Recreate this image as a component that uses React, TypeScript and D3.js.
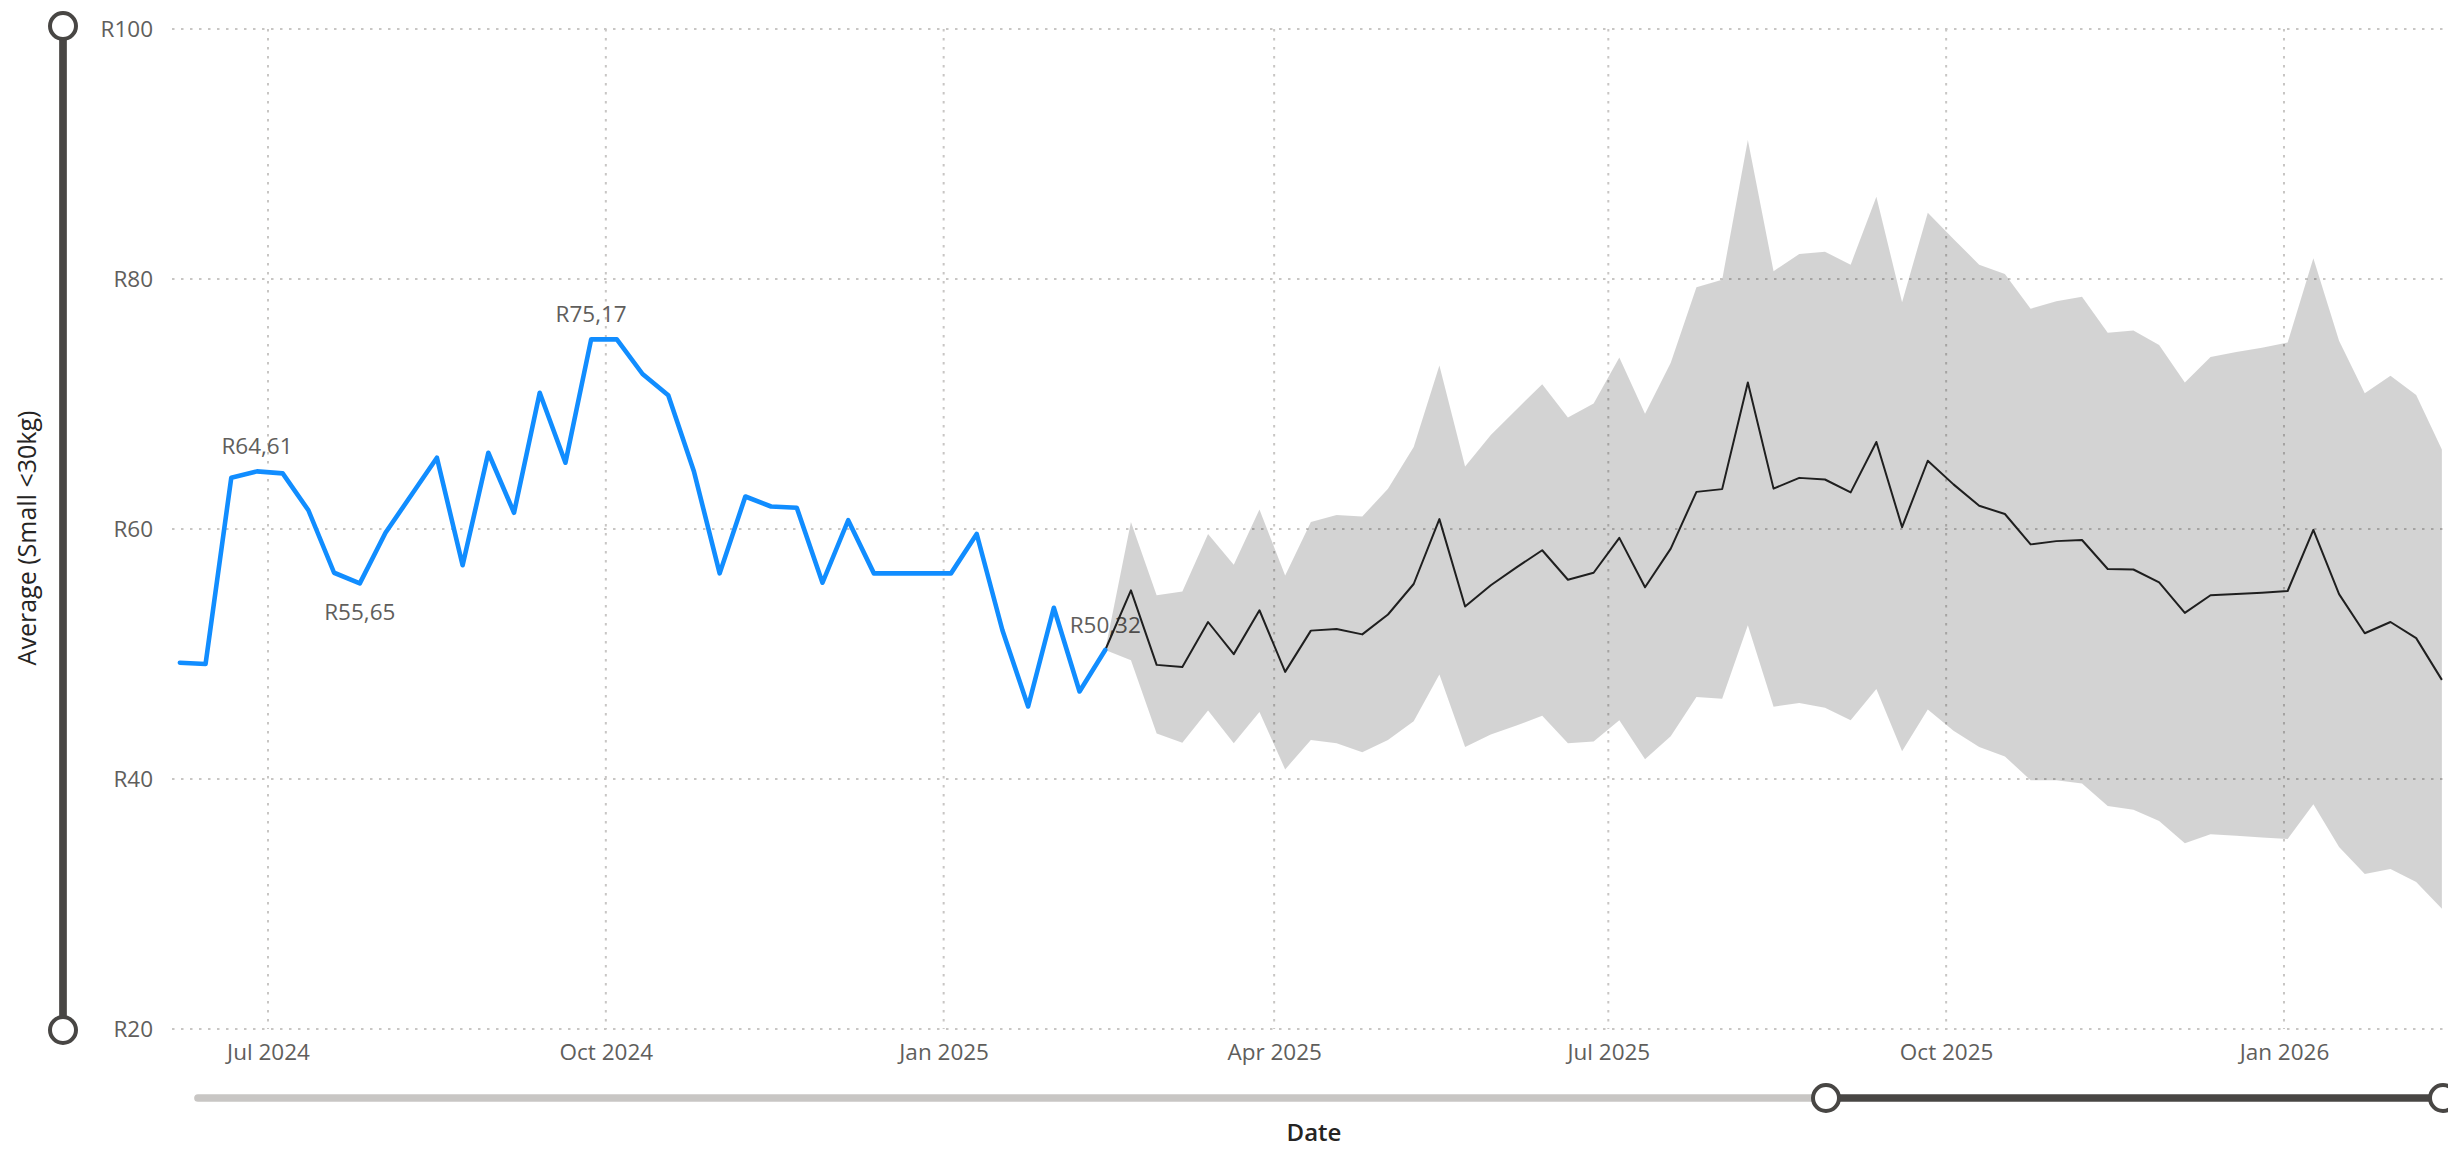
import { useEffect, useRef } from 'react'
import * as d3 from 'd3'

const W = 2448
const H = 1150
const FONT = '"Segoe UI", "Open Sans", "Noto Sans", sans-serif'

// y axis ticks (rand)
const yTicks = [20, 40, 60, 80, 100]
// quarterly x ticks
const xTickDates = ['2024-07-01', '2024-10-01', '2025-01-01', '2025-04-01', '2025-07-01', '2025-10-01', '2026-01-01']

// weekly actuals, starting 7 Jun 2024
const actualStart = '2024-06-07'
const actual = [
  49.3, 49.2, 64.1, 64.61, 64.45, 61.5, 56.5, 55.65, 59.7, 62.7,
  65.7, 57.1, 66.1, 61.3, 70.9, 65.3, 75.17, 75.17, 72.4, 70.7,
  64.6, 56.45, 62.6, 61.8, 61.7, 55.7, 60.7, 56.45, 56.45, 56.45,
  56.45, 59.6, 51.9, 45.8, 53.7, 47.0, 50.32,
]

// weekly forecast, starting 21 Feb 2025
const forecastStart = '2025-02-21'
const forecast = [
  55.09, 49.13, 48.96, 52.56, 49.99, 53.5, 48.57, 51.87, 52.0, 51.57,
  53.16, 55.6, 60.79, 53.8, 55.5, 56.93, 58.3, 55.94, 56.5, 59.29,
  55.34, 58.43, 62.97, 63.19, 71.72, 63.23, 64.09, 63.96, 62.93, 66.96,
  60.15, 65.46, 63.57, 61.86, 61.2, 58.77, 59.03, 59.12, 56.8, 56.76,
  55.73, 53.29, 54.7, 54.8, 54.9, 55.04, 59.93, 54.79, 51.66, 52.56,
  51.27, 47.93,
]
const upper = [
  60.57, 54.7, 55.0, 59.6, 57.14, 61.56, 56.29, 60.57, 61.13, 61.0,
  63.23, 66.57, 73.09, 65.0, 67.52, 69.57, 71.59, 68.93, 70.05, 73.73,
  69.23, 73.3, 79.35, 79.95, 91.13, 80.63, 82.0, 82.18, 81.15, 86.59,
  78.15, 85.31, 83.2, 81.15, 80.4, 77.63, 78.23, 78.58, 75.7, 75.88,
  74.72, 71.72, 73.77, 74.16, 74.5, 74.93, 81.66, 75.06, 70.86, 72.27,
  70.73, 66.36,
]
const lower = [
  49.51, 43.64, 42.91, 45.49, 42.87, 45.36, 40.77, 43.13, 42.87, 42.14,
  43.13, 44.63, 48.36, 42.57, 43.56, 44.28, 45.06, 42.87, 43.0, 44.71,
  41.58, 43.43, 46.56, 46.43, 52.3, 45.79, 46.09, 45.7, 44.71, 47.2,
  42.23, 45.57, 43.86, 42.57, 41.8, 39.91, 39.91, 39.65, 37.85, 37.55,
  36.65, 34.86, 35.58, 35.46, 35.33, 35.2, 37.98, 34.56, 32.41, 32.8,
  31.77, 29.63,
]

// points of the actual series that carry a data label
const labelled = [3, 7, 16, 36]
const labelledBelow = [7]

export default function App() {
  const svgRef = useRef<SVGSVGElement>(null)

  useEffect(() => {
    if (!svgRef.current) return
    const svg = d3.select(svgRef.current)
    svg.selectAll('*').remove()

    const left = 172
    const right = W
    const top = 29
    const bottom = 1029

    const x = d3.scaleUtc()
      .domain([new Date('2024-06-04T20:38:00Z'), new Date('2026-02-14T16:00:00Z')])
      .range([left, right])
    const y = d3.scaleLinear().domain([20, 100]).range([bottom, top])

    const week = (start: string, i: number) => d3.utcDay.offset(new Date(start + 'T00:00:00Z'), 7 * i)
    const actData = actual.map((v, i) => ({ date: week(actualStart, i), v }))
    const last = actData[actData.length - 1]
    const fcData = [
      { date: last.date, v: last.v, hi: last.v, lo: last.v },
      ...forecast.map((v, i) => ({ date: week(forecastStart, i), v, hi: upper[i], lo: lower[i] })),
    ]
    const tickDates = xTickDates.map(d => new Date(d + 'T00:00:00Z'))

    // gridlines
    const grid = svg.append('g')
      .attr('stroke', '#C8C6C4')
      .attr('stroke-width', 2)
      .attr('stroke-dasharray', '2.5 6.5')
    grid.selectAll('.hg')
      .data(yTicks)
      .enter().append('line')
      .attr('x1', left).attr('x2', right)
      .attr('y1', d => y(d)).attr('y2', d => y(d))
    grid.selectAll('.vg')
      .data(tickDates)
      .enter().append('line')
      .attr('x1', d => x(d)).attr('x2', d => x(d))
      .attr('y1', top).attr('y2', bottom)

    // axes
    const yAxis = svg.append('g')
      .attr('transform', `translate(${left},0)`)
      .call(d3.axisLeft(y).tickValues(yTicks).tickSize(0).tickPadding(19).tickFormat(d => `R${d}`))
    yAxis.select('.domain').remove()
    yAxis.attr('font-family', FONT).attr('font-size', 22.5)
    yAxis.selectAll('text').attr('fill', '#605E5C')

    const xAxis = svg.append('g')
      .attr('transform', `translate(0,${bottom})`)
      .call(d3.axisBottom(x).tickValues(tickDates).tickSize(0).tickPadding(15)
        .tickFormat(d => d3.utcFormat('%b %Y')(d as Date)))
    xAxis.select('.domain').remove()
    xAxis.attr('font-family', FONT).attr('font-size', 22.5)
    xAxis.selectAll('text').attr('fill', '#605E5C')

    // data labels
    const fmt = (v: number) => 'R' + d3.format('.2f')(v).replace('.', ',')
    svg.append('g')
      .selectAll('text')
      .data(labelled)
      .enter().append('text')
      .attr('x', i => x(actData[i].date))
      .attr('y', i => labelledBelow.includes(i) ? y(actData[i].v) + 36.5 : y(actData[i].v) - 17.5)
      .attr('text-anchor', 'middle')
      .attr('font-family', FONT)
      .attr('font-size', 22.5)
      .attr('fill', '#605E5C')
      .text(i => fmt(actData[i].v))

    // forecast band
    const area = d3.area<typeof fcData[number]>()
      .x(d => x(d.date))
      .y0(d => y(d.lo))
      .y1(d => y(d.hi))
    svg.append('path')
      .datum(fcData)
      .attr('d', area)
      .attr('fill', '#000')
      .attr('fill-opacity', 0.172)

    const fcLine = d3.line<typeof fcData[number]>()
      .x(d => x(d.date))
      .y(d => y(d.v))
    svg.append('path')
      .datum(fcData)
      .attr('d', fcLine)
      .attr('fill', 'none')
      .attr('stroke', '#1F1F1F')
      .attr('stroke-width', 2)
      .attr('stroke-linejoin', 'round')

    const actLine = d3.line<typeof actData[number]>()
      .x(d => x(d.date))
      .y(d => y(d.v))
    svg.append('path')
      .datum(actData)
      .attr('d', actLine)
      .attr('fill', 'none')
      .attr('stroke', '#118DFF')
      .attr('stroke-width', 4.6)
      .attr('stroke-linejoin', 'round')
      .attr('stroke-linecap', 'round')

    // axis titles
    svg.append('text')
      .attr('transform', `translate(36,538) rotate(-90)`)
      .attr('text-anchor', 'middle')
      .attr('font-family', FONT)
      .attr('font-size', 25)
      .attr('fill', '#252423')
      .text('Average (Small <30kg)')
    svg.append('text')
      .attr('x', 1314)
      .attr('y', 1141)
      .attr('text-anchor', 'middle')
      .attr('font-family', FONT)
      .attr('font-size', 24)
      .attr('font-weight', 600)
      .attr('fill', '#252423')
      .text('Date')

    // range sliders
    const dark = '#484644'
    svg.append('line')
      .attr('x1', 63).attr('x2', 63).attr('y1', 26).attr('y2', 1030)
      .attr('stroke', dark).attr('stroke-width', 7.7)
    svg.append('line')
      .attr('x1', 198).attr('x2', 1826).attr('y1', 1098).attr('y2', 1098)
      .attr('stroke', '#C8C6C4').attr('stroke-width', 7.7).attr('stroke-linecap', 'round')
    svg.append('line')
      .attr('x1', 1826).attr('x2', 2443).attr('y1', 1098).attr('y2', 1098)
      .attr('stroke', dark).attr('stroke-width', 7.7)
    svg.selectAll('.knob')
      .data([[63, 26], [63, 1030], [1826, 1098], [2443, 1098]])
      .enter().append('circle')
      .attr('cx', d => d[0]).attr('cy', d => d[1]).attr('r', 13)
      .attr('fill', '#fff').attr('stroke', dark).attr('stroke-width', 4)
  }, [])

  return (
    <svg
      ref={svgRef}
      width={W}
      height={H}
      style={{ position: 'absolute', left: 0, top: 0, display: 'block', background: '#fff' }}
    />
  )
}
